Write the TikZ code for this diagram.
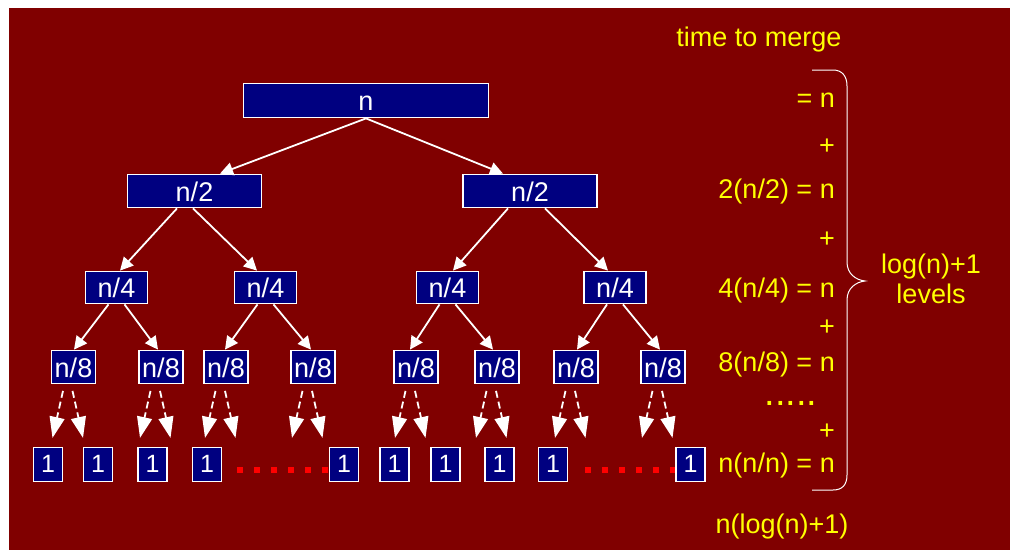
\documentclass[tikz,border=0pt]{standalone}
\usepackage{fontspec}
\setmainfont{Liberation Sans}
\usetikzlibrary{arrows.meta,calc}
\definecolor{bgred}{HTML}{800000}
\definecolor{navyblue}{HTML}{000080}
\definecolor{yel}{HTML}{FFFF00}
\definecolor{dotred}{HTML}{FF0000}
\begin{document}
\begin{tikzpicture}[x=1pt,y=-1pt,
  box/.style={draw=white, line width=1.8pt, fill=navyblue, text=white, inner sep=0pt,
    font=\fontsize{27}{32}\selectfont, text height=20pt, text depth=0pt},
  bigbox/.style={box, minimum width=245pt, minimum height=34pt},
  halfbox/.style={box, minimum width=134pt, minimum height=33pt},
  quartbox/.style={box, minimum width=62pt, minimum height=32pt},
  eighthbox/.style={box, minimum width=44pt, minimum height=33pt},
  leafbox/.style={box, minimum width=29pt, minimum height=34pt, font=\fontsize{25}{30}\selectfont, text height=16pt},
  solidarrow/.style={white, line width=1.8pt, -{Triangle[length=13pt,width=13pt]}},
  dasharrow/.style={white, line width=1.8pt, dash pattern=on 7pt off 4pt, -{Triangle[length=21pt,width=15pt]}},
  reddots/.style={dotred, line width=6pt, dash pattern=on 6pt off 11pt},
  ytext/.style={text=yel, inner sep=0pt, font=\fontsize{27}{32}\selectfont},
  bracestyle/.style={white, line width=1pt}
]
\useasboundingbox (0,0) rectangle (1010,550);
\fill[bgred] (9,8) rectangle (1010,550);

% tree nodes
\node[bigbox] (top) at (366,100.5) {n};
\node[halfbox] (n2l) at (194.5,191) {n/2};
\node[halfbox] (n2r) at (530,191) {n/2};

\node[quartbox] (n4a) at (116.5,287.5) {n/4};
\node[quartbox] (n4b) at (265.5,287.5) {n/4};
\node[quartbox] (n4c) at (447.5,287.5) {n/4};
\node[quartbox] (n4d) at (615,287.5) {n/4};

\foreach \nm/\xx in {a/73.5, b/161, c/226, d/313, e/416, f/497, g/576, h/663}
  \node[eighthbox] (n8\nm) at (\xx,367) {n/8};

\foreach \nm/\xx in {1/48, 2/98, 3/152.5, 4/207, 5/344, 6/394.5, 7/445.5, 8/499.5, 9/553, 10/690.5}
  \node[leafbox] (l\nm) at (\xx,464.5) {1};

% solid arrows
\draw[solidarrow] (top.south) -- ([xshift=25.5pt]n2l.north);
\draw[solidarrow] (top.south) -- ([xshift=-27pt]n2r.north);

\draw[solidarrow] ([xshift=-17.5pt]n2l.south) -- ([xshift=3.5pt]n4a.north);
\draw[solidarrow] ([xshift=-1.5pt]n2l.south) -- ([xshift=-8.5pt]n4b.north);
\draw[solidarrow] ([xshift=-22pt]n2r.south) -- ([xshift=5.5pt]n4c.north);
\draw[solidarrow] ([xshift=15pt]n2r.south) -- ([xshift=-7pt]n4d.north);

\draw[solidarrow] ([xshift=-8pt]n4a.south) -- ([xshift=0.5pt]n8a.north);
\draw[solidarrow] ([xshift=8pt]n4a.south) -- ([xshift=-3pt]n8b.north);
\draw[solidarrow] ([xshift=-8pt]n4b.south) -- ([xshift=-1pt]n8c.north);
\draw[solidarrow] ([xshift=8pt]n4b.south) -- ([xshift=-2pt]n8d.north);
\draw[solidarrow] ([xshift=-8pt]n4c.south) -- ([xshift=-6pt]n8e.north);
\draw[solidarrow] ([xshift=8pt]n4c.south) -- ([xshift=-4pt]n8f.north);
\draw[solidarrow] ([xshift=-8pt]n4d.south) -- ([xshift=1pt]n8g.north);
\draw[solidarrow] ([xshift=8pt]n4d.south) -- ([xshift=-3pt]n8h.north);

% dashed arrows to free ends
\foreach \nm in {a,b,c,d,e,f,g,h}{
  \coordinate (s\nm l) at ([shift={(-10.5,6.5)}]n8\nm.south);
  \coordinate (e\nm l) at ([shift={(-21,53.5)}]n8\nm.south);
  \coordinate (s\nm r) at ([shift={(-1,6.5)}]n8\nm.south);
  \coordinate (e\nm r) at ([shift={(9.5,53.5)}]n8\nm.south);
  \draw[dasharrow] (s\nm l) -- (e\nm l);
  \draw[dasharrow] (s\nm r) -- (e\nm r);
}

% red dotted gaps
\draw[reddots] ([shift={(14.5,5.5)}]l4.east) -- ([shift={(0,5.5)}]l5.west);
\draw[reddots] ([shift={(17,5.5)}]l9.east) -- ([shift={(0,5.5)}]l10.west);

% right column
\node[ytext, anchor=base] (title) at (759,46) {time to merge};
\node[ytext, anchor=base east] (r0) at (835,107) {= n};
\node[ytext, anchor=base] (p1) at (827,154) {+};
\node[ytext, anchor=base east] (r1) at (835,198) {2(n/2) = n};
\node[ytext, anchor=base] (p2) at (827,247) {+};
\node[ytext, anchor=base east] (r2) at (835,297) {4(n/4) = n};
\node[ytext, anchor=base] (p3) at (827,335) {+};
\node[ytext, anchor=base east] (r3) at (835,371) {8(n/8) = n};
\node[ytext, anchor=base, font=\fontsize{38}{40}\selectfont] (dots) at (791,405) {.....};
\node[ytext, anchor=base] (p4) at (827,439) {+};
\node[ytext, anchor=base east] (r4) at (835,472) {n(n/n) = n};
\node[ytext, anchor=base] (total) at (782,533) {n(log(n)+1)};
\node[ytext, anchor=base] (lv1) at (931,273) {log(n)+1};
\node[ytext, anchor=base] (lv2) at (931,303) {levels};

% brace
\draw[bracestyle] (812,70) -- (833,70) .. controls (842,70) and (847,76) .. (847,86)
  -- (847,262) .. controls (847,274) and (856,280) .. (865,281)
  .. controls (856,282) and (847,288) .. (847,300)
  -- (847,475) .. controls (847,485) and (842,490) .. (833,490) -- (812,490);
\end{tikzpicture}
\end{document}
